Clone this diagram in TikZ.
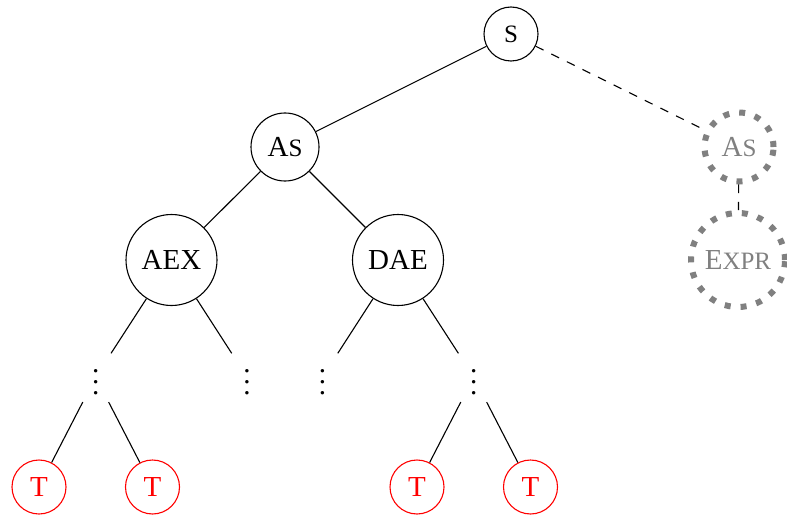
\documentclass[tikz,border=0pt]{standalone}
\usepackage{fontspec}
\setmainfont{Liberation Serif}
\newcommand{\fsc}[1]{{\fontsize{25}{25}\selectfont #1}}
\newcommand{\mydots}{\vbox{\kern10pt\baselineskip=11pt\lineskiplimit=0pt\hbox{.}\hbox{.}\hbox{.}}}
\tikzset{
  bigfont/.style={font=\fontsize{29}{34}\selectfont},
  tn/.style={circle, draw, line width=1.1pt, inner sep=0pt, bigfont},
  tred/.style={tn, draw=red, text=red, minimum size=54pt},
  tgray/.style={circle, draw=gray, text=gray, line width=6pt,
    dash pattern=on 6pt off 10pt, inner sep=0pt, bigfont},
  vd/.style={circle, inner sep=0pt, minimum size=56pt, bigfont},
  edge/.style={line width=1.1pt},
  dedge/.style={line width=1.1pt, dash pattern=on 8.7pt off 8.7pt}
}
\begin{document}
\begin{tikzpicture}[x=1pt, y=-1pt]
\useasboundingbox (0,0) rectangle (787,516);
\node[tn, minimum size=54pt] (S) at (511,34) {\fsc{S}};
\node[tn, minimum size=68pt] (As) at (285,147) {A\fsc{S}};
\node[tn, minimum size=91pt] (AEX) at (171.5,260) {AEX};
\node[tn, minimum size=91pt] (DAE) at (398,260) {DAE};
\node[tgray, minimum size=69pt] (gAs) at (739,147) {A\fsc{S}};
\node[tgray, minimum size=94pt] (Expr) at (738,260) {E\fsc{XPR}};
\node[vd] (v1) at (95.7,377) {\mydots};
\node[vd] (v2) at (247,377) {\mydots};
\node[vd] (v3) at (322.5,377) {\mydots};
\node[vd] (v4) at (473.7,377) {\mydots};
\node[tred] (T1) at (39,487) {T};
\node[tred] (T2) at (152.5,487) {T};
\node[tred] (T3) at (417,487) {T};
\node[tred] (T4) at (530.5,487) {T};
\draw[edge] (S) -- (As);
\draw[edge] (As) -- (AEX);
\draw[edge] (As) -- (DAE);
\draw[edge] (AEX) -- (v1);
\draw[edge] (AEX) -- (v2);
\draw[edge] (DAE) -- (v3);
\draw[edge] (DAE) -- (v4);
\draw[edge] (v1) -- (T1);
\draw[edge] (v1) -- (T2);
\draw[edge] (v4) -- (T3);
\draw[edge] (v4) -- (T4);
\draw[dedge] (S) -- (gAs);
\draw[dedge] (gAs) -- (Expr);
\end{tikzpicture}
\end{document}
